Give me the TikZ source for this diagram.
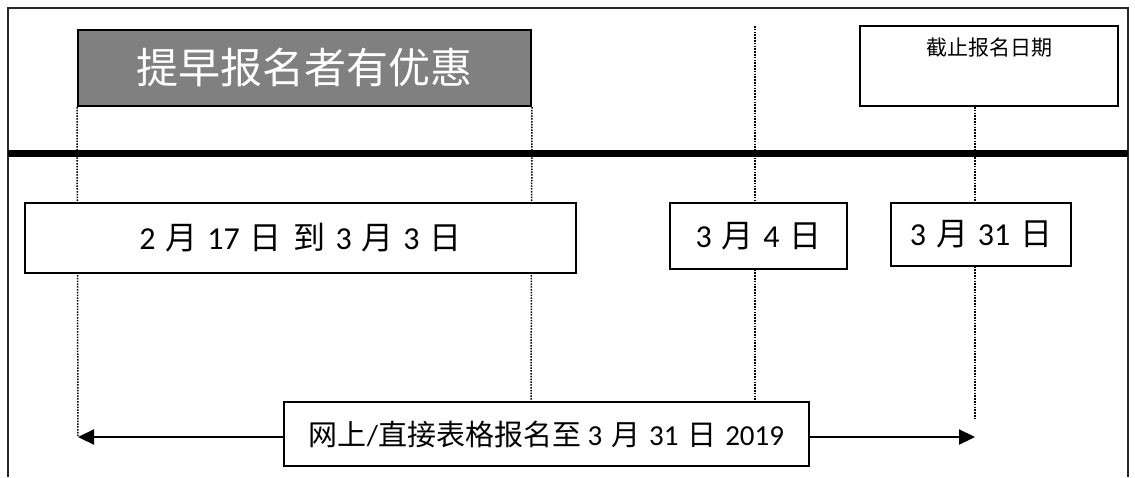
\documentclass[tikz,border=0pt]{standalone}
\usepackage{fontspec}
\setmainfont{Carlito}
\newfontfamily\cjk{Noto Sans CJK SC}
\usetikzlibrary{arrows.meta}
\newcommand{\zh}[1]{{\cjk\hspace{0.08em}#1\hspace{0.08em}}}
\begin{document}
\begin{tikzpicture}[x=1pt,y=-1pt,
  box/.style={draw=black, line width=2pt, fill=white, inner sep=0pt},
  datetext/.style={font=\fontsize{32}{36}\selectfont},
  guide/.style={dash pattern=on 1.5pt off 1.3pt, line width=1.5pt},
  frameline/.style={line width=1.5pt, black!85},
  arr/.style={line width=2.2pt, -{Triangle[length=16pt,width=15pt]}}]
\useasboundingbox (0,0) rectangle (1135,477);
% frame
\coordinate (fbl) at (8,477);
\coordinate (ftl) at (8,8);
\coordinate (ftr) at (1128,8);
\coordinate (fbr) at (1128,477);
\draw[frameline] (fbl) -- (ftl) -- (ftr) -- (fbr);
% guide coordinates
\coordinate (g1b) at (78,437);
\coordinate (g2b) at (531,402);
\coordinate (g3t) at (755,26);
\coordinate (g3b) at (755,402);
\coordinate (g4b) at (975,418);
% top boxes
\node[box, fill=black!50, minimum width=453pt, minimum height=76pt, text=white,
      font=\cjk\fontsize{42}{48}\selectfont] (early) at (304.5,68) {提早报名者有优惠};
\node[box, minimum width=258pt, minimum height=80pt] (deadline) at (989,66) {};
\node[font=\cjk\fontsize{21}{24}\selectfont, anchor=north, inner sep=0pt] (deadlinetext) at ([yshift=-13pt]deadline.north) {截止报名日期};
% guides
\draw[guide] (early.south west) -- (g1b);
\draw[guide] (early.south east) -- (g2b);
\draw[guide] (g3t) -- (g3b);
\draw[guide] (deadline.south -| g4b) -- (g4b);
% thick line
\coordinate (tl) at (8,153);
\coordinate (tr) at (1128,153);
\draw[line width=7pt] (tl) -- (tr);
% date boxes
\node[box, minimum width=551pt, minimum height=70pt, datetext] (d1) at (300.5,238)
  {2 \zh{月} 17 \zh{日} \zh{到} 3 \zh{月} 3 \zh{日}};
\node[box, minimum width=177pt, minimum height=66pt, datetext] (d2) at (758.5,236)
  {3 \zh{月} 4 \zh{日}};
\node[box, minimum width=180pt, minimum height=63pt, datetext] (d3) at (981,234.5)
  {3 \zh{月} 31 \zh{日}};
% bottom box and arrows
\node[box, minimum width=525pt, minimum height=64pt, font=\fontsize{29}{34}\selectfont] (online) at (546.5,434)
  {{\cjk 网上}/{\cjk 直接表格报名至} 3 \zh{月} 31 \zh{日} 2019};
\coordinate (al) at (78,437);
\coordinate (ar) at (975,437);
\draw[arr] (online.west |- al) -- (al);
\draw[arr] (online.east |- ar) -- (ar);
\end{tikzpicture}
\end{document}
